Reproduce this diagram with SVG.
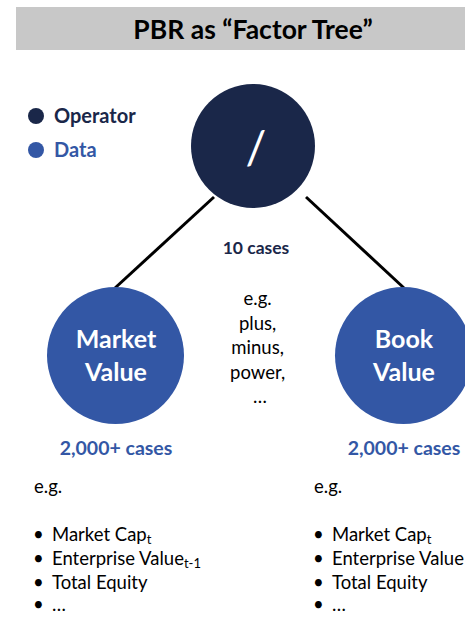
<svg xmlns="http://www.w3.org/2000/svg" width="465" height="617" viewBox="0 0 465 617">
<style>
text{font-family:Lato,"Open Sans","Liberation Sans",sans-serif}
.b{font-weight:bold}
.op{fill:#1a2749}
.da{fill:#3357a5}
.w{fill:#ffffff}
.k{fill:#000000;font-size:18.5px}
.s{font-size:13px}
.edge{stroke:#000000;stroke-width:3;fill:none}
</style>
<rect x="16" y="7" width="449" height="43" fill="#c8c8c8"/>
<text x="253" y="39" text-anchor="middle" class="b" font-size="26.5" fill="#000000">PBR as “Factor Tree”</text>
<g id="legend">
<circle cx="36" cy="116" r="8" class="op"/>
<text x="54" y="123" class="b op" font-size="20">Operator</text>
<circle cx="36" cy="150" r="8" class="da"/>
<text x="54" y="157" class="b da" font-size="20">Data</text>
</g>
<g id="connectors">
<line x1="115" y1="288" x2="214" y2="197" class="edge"/>
<line x1="306" y1="197" x2="404" y2="288" class="edge"/>
</g>
<g id="operator">
<circle cx="253" cy="146" r="62" class="op"/>
<text x="256" y="164" text-anchor="middle" class="w" font-size="46">/</text>
<text x="256" y="254" text-anchor="middle" class="b op" font-size="17.5">10 cases</text>
<text text-anchor="middle" class="k">
<tspan x="260" y="305">e.g.</tspan>
<tspan x="260" y="329.5">plus,</tspan>
<tspan x="260" y="354">minus,</tspan>
<tspan x="260" y="378.5">power,</tspan>
<tspan x="260" y="403">…</tspan>
</text>
</g>
<g id="market-value">
<circle cx="115.5" cy="355.5" r="68.5" class="da"/>
<text x="116" y="348" text-anchor="middle" class="b w" font-size="25">Market</text>
<text x="116" y="381" text-anchor="middle" class="b w" font-size="25">Value</text>
<text x="116" y="455" text-anchor="middle" class="b da" font-size="19.5">2,000+ cases</text>
<text x="34" y="493" class="k">e.g.</text>
<text x="33" y="541" class="k">•</text><text x="52" y="541" class="k">Market Cap<tspan class="s" dy="3">t</tspan></text>
<text x="33" y="565" class="k">•</text><text x="52" y="565" class="k">Enterprise Value<tspan class="s" dy="3">t-1</tspan></text>
<text x="33" y="589" class="k">•</text><text x="52" y="589" class="k">Total Equity</text>
<text x="33" y="611" class="k">•</text><text x="52" y="611" class="k">…</text>
</g>
<g id="book-value">
<circle cx="403.5" cy="355.5" r="68.5" class="da"/>
<text x="404" y="348" text-anchor="middle" class="b w" font-size="25">Book</text>
<text x="404" y="381" text-anchor="middle" class="b w" font-size="25">Value</text>
<text x="404" y="455" text-anchor="middle" class="b da" font-size="19.5">2,000+ cases</text>
<text x="314" y="493" class="k">e.g.</text>
<text x="313" y="541" class="k">•</text><text x="332" y="541" class="k">Market Cap<tspan class="s" dy="3">t</tspan></text>
<text x="313" y="565" class="k">•</text><text x="332" y="565" class="k">Enterprise Value</text>
<text x="313" y="589" class="k">•</text><text x="332" y="589" class="k">Total Equity</text>
<text x="313" y="611" class="k">•</text><text x="332" y="611" class="k">…</text>
</g>
</svg>
